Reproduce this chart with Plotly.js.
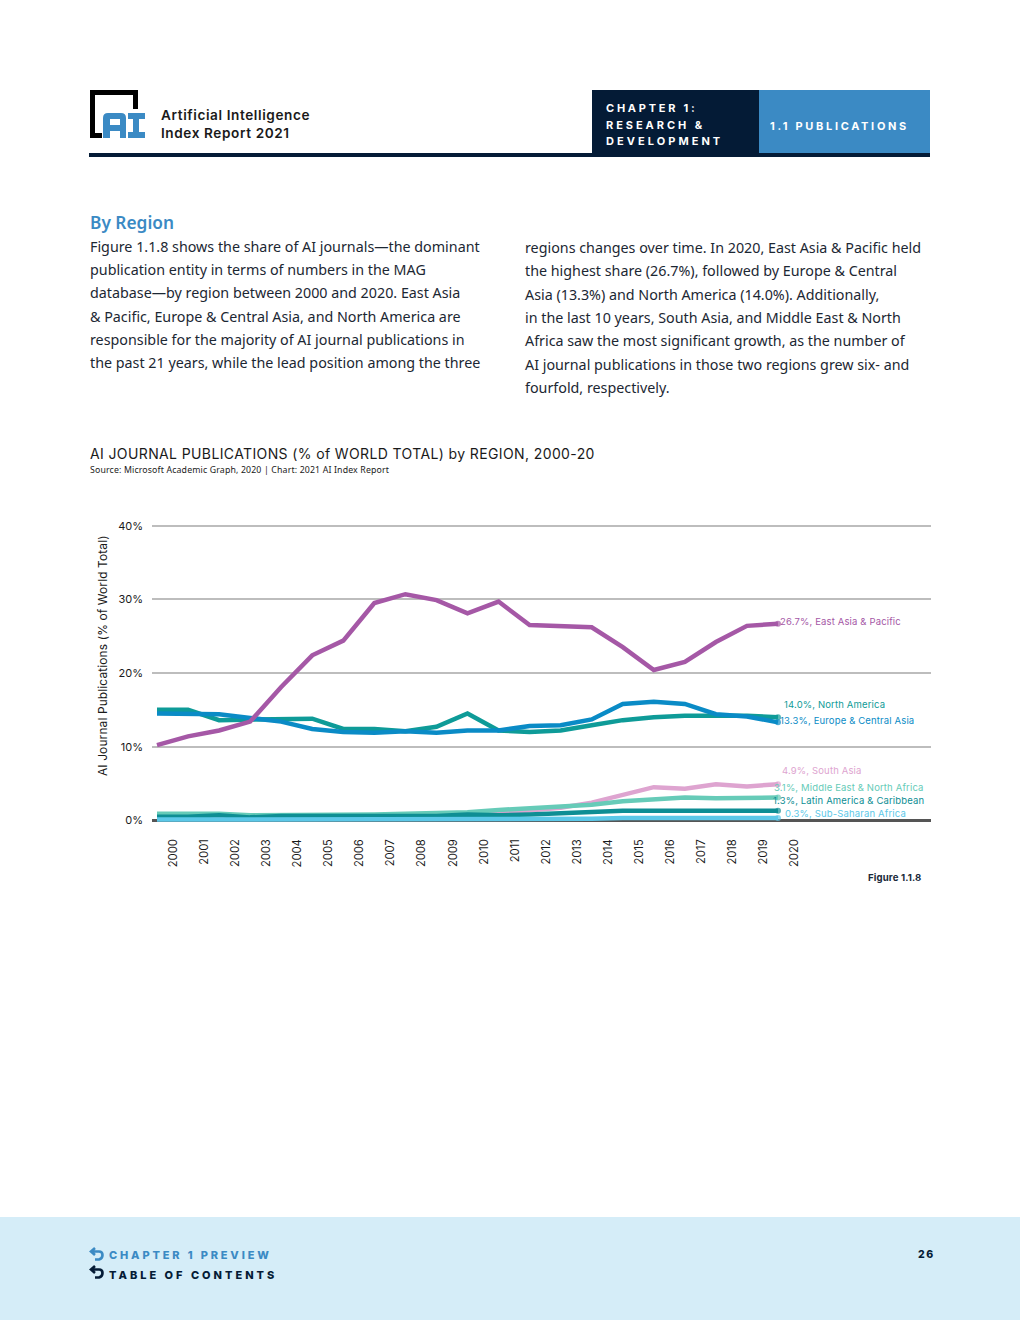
<!DOCTYPE html>
<html><head><meta charset="utf-8">
<script src="https://cdn.plot.ly/plotly-3.0.1.min.js"></script>
<style>
html,body{margin:0;padding:0;background:#fff}
#page{position:relative;width:1020px;height:1320px;overflow:hidden}
#chart{position:absolute;left:0;top:0;width:1020px;height:1320px}
.t{position:absolute;white-space:nowrap;line-height:1;transform:translateY(-50%)}
.b{position:absolute}
.body{font-family:"Noto Sans";font-size:14.3px;color:#1c2733}
.hd{font-family:Inter;font-weight:700;font-size:11px;letter-spacing:2.95px;color:#fff}
.ft{font-family:Inter;font-weight:800;font-size:11px;letter-spacing:2.85px}
.brand{font-family:Inter;font-weight:600;font-size:13.6px;color:#1a1a1a;letter-spacing:.6px}
.gtitle{letter-spacing:.38px}
.annotation-text{letter-spacing:.15px}
</style></head>
<body><div id="page">
<div class="b" style="left:0;top:1217px;width:1020px;height:103px;background:#d5edf8"></div>
<div class="b" style="left:89px;top:153px;width:841px;height:4px;background:#041b36"></div>
<div class="b" style="left:592px;top:90px;width:167px;height:63px;background:#041b36"></div>
<div class="b" style="left:759px;top:90px;width:171px;height:63px;background:#3b8ac4"></div>
<svg class="b" style="left:88px;top:88px" width="60" height="54" viewBox="0 0 60 54">
<path d="M2 2H50V21H45V7H7V45H14V50H2Z" fill="#000"/>
<path d="M20 25H33Q38 25 38 30V50H32V43H22V50H15V30Q15 25 20 25ZM22 31V37H32V31Z" fill="#3b8ac4" fill-rule="evenodd"/>
<path d="M40 25H57V31H51V44H57V50H40V44H45V31H40Z" fill="#3b8ac4"/>
</svg>
<div class="t brand" style="left:161px;top:115.5px">Artificial Intelligence</div>
<div class="t brand" style="left:161px;top:133.5px">Index Report 2021</div>
<div class="t hd" style="left:606px;top:108px;letter-spacing:2.75px">CHAPTER 1:</div>
<div class="t hd" style="left:606px;top:124.5px">RESEARCH &amp;</div>
<div class="t hd" style="left:606px;top:141px;letter-spacing:3.05px">DEVELOPMENT</div>
<div class="t hd" style="left:770px;top:126px;letter-spacing:2.68px">1.1 PUBLICATIONS</div>
<div class="t" style="left:90px;top:223px;font-family:'Noto Sans';font-weight:600;font-size:17.3px;color:#3b8ac4">By Region</div>
<div class="t body" style="left:90px;top:246.5px">Figure 1.1.8 shows the share of AI journals—the dominant</div>
<div class="t body" style="left:90px;top:269.5px">publication entity in terms of numbers in the MAG</div>
<div class="t body" style="left:90px;top:293px">database—by region between 2000 and 2020. East Asia</div>
<div class="t body" style="left:90px;top:316.5px">&amp; Pacific, Europe &amp; Central Asia, and North America are</div>
<div class="t body" style="left:90px;top:339.5px">responsible for the majority of AI journal publications in</div>
<div class="t body" style="left:90px;top:363px">the past 21 years, while the lead position among the three</div>
<div class="t body" style="left:525px;top:247.5px">regions changes over time. In 2020, East Asia &amp; Pacific held</div>
<div class="t body" style="left:525px;top:270.5px">the highest share (26.7%), followed by Europe &amp; Central</div>
<div class="t body" style="left:525px;top:294.5px">Asia (13.3%) and North America (14.0%). Additionally,</div>
<div class="t body" style="left:525px;top:317.5px">in the last 10 years, South Asia, and Middle East &amp; North</div>
<div class="t body" style="left:525px;top:340.5px">Africa saw the most significant growth, as the number of</div>
<div class="t body" style="left:525px;top:364.5px">AI journal publications in those two regions grew six- and</div>
<div class="t body" style="left:525px;top:387.5px">fourfold, respectively.</div>
<div id="chart"></div>
<svg class="b" style="left:89px;top:1247px" width="16" height="14" viewBox="0 0 16 14"><path d="M6 1 2 4.5 6 8M2.5 4.5H10Q13.5 4.5 13.5 8T10 12.5H6" fill="none" stroke="#3b8ac4" stroke-width="2.6"/></svg>
<svg class="b" style="left:89px;top:1265px" width="16" height="14" viewBox="0 0 16 14"><path d="M6 1 2 4.5 6 8M2.5 4.5H10Q13.5 4.5 13.5 8T10 12.5H6" fill="none" stroke="#041b36" stroke-width="2.6"/></svg>
<div class="t ft" style="left:109px;top:1255px;color:#3b8ac4">CHAPTER 1 PREVIEW</div>
<div class="t ft" style="left:109px;top:1275px;color:#041b36;letter-spacing:3px">TABLE OF CONTENTS</div>
<div class="t ft" style="left:918px;top:1255px;color:#041b36;font-size:10.5px;letter-spacing:1.6px">26</div>
</div>
<script>
const years=[2000,2001,2002,2003,2004,2005,2006,2007,2008,2009,2010,2011,2012,2013,2014,2015,2016,2017,2018,2019,2020];
const northAmerica=[15.0,15.0,13.6,13.7,13.8,13.8,12.4,12.4,12.1,12.7,14.5,12.2,12.0,12.2,12.9,13.6,14.0,14.2,14.2,14.2,14.0];
const europeCentralAsia=[14.5,14.5,14.4,13.9,13.4,12.4,12.0,11.9,12.1,11.9,12.2,12.2,12.8,12.9,13.7,15.8,16.1,15.8,14.4,14.1,13.3];
const southAsia=[0.4,0.4,0.4,0.2,0.2,0.3,0.3,0.4,0.5,0.6,0.8,1.0,1.3,1.7,2.4,3.5,4.5,4.3,4.9,4.6,4.9];
const middleEastNorthAfrica=[0.9,0.9,0.9,0.7,0.7,0.7,0.8,0.8,0.9,1.0,1.1,1.4,1.6,1.8,2.1,2.6,2.9,3.1,3.0,3.0,3.1];
const latinAmericaCaribbean=[0.5,0.5,0.7,0.4,0.6,0.6,0.7,0.7,0.6,0.6,0.8,0.7,0.8,1.0,1.1,1.3,1.3,1.3,1.3,1.3,1.3];
const subSaharanAfrica=[0.1,0.1,0.1,0.1,0.1,0.1,0.1,0.1,0.1,0.1,0.2,0.2,0.2,0.2,0.2,0.3,0.3,0.3,0.3,0.3,0.3];
const eastAsiaPacific=[10.2,11.4,12.2,13.4,18.1,22.4,24.4,29.5,30.7,29.9,28.1,29.7,26.5,26.3,26.2,23.5,20.4,21.5,24.2,26.4,26.7];
const seriesNames=["North America","Europe & Central Asia","South Asia","Middle East & North Africa","Latin America & Caribbean","Sub-Saharan Africa","East Asia & Pacific"];
const seriesValues=[northAmerica,europeCentralAsia,southAsia,middleEastNorthAfrica,latinAmericaCaribbean,subSaharanAfrica,eastAsiaPacific];
const seriesColors=["#0e9b98","#0a8bc6","#dea4d0","#66cbb8","#0e8e94","#5cc8e8","#a558a6"];
const labelDx=[4,0,2,-6,-7,5,0];
const labelY=[704.5,720.5,770.5,787.5,800.5,813.5,621];
const yTicks=[0,10,20,30,40];

const L=152,R=931,Y40=525.5,Y0=820.5,W=1020,H=1320,PAD=0.5;
const perUnit=(Y0-Y40)/40;
const T=Y40-PAD*perUnit,B=Y0+PAD*perUnit;
const px=x=>(x-L)/(R-L), py=y=>(B-y)/(B-T);
const yPix=v=>Y0-v*perUnit;
const chartFont="Inter";
const traces=seriesNames.map((n,i)=>({
  type:"scatter",mode:"lines+markers",name:n,x:years,y:seriesValues[i],cliponaxis:false,
  line:{color:seriesColors[i],width:4.5,shape:"linear"},
  marker:{color:seriesColors[i],size:years.map((_,k)=>k===years.length-1?6:0),line:{width:0}},
  hoverinfo:"x+y+name"
}));
const valueLabels=seriesNames.map((n,i)=>{
  const last=seriesValues[i][seriesValues[i].length-1];
  return {x:2020,y:last,xref:"x",yref:"y",text:last.toFixed(1)+"%, "+n,showarrow:false,xanchor:"left",yanchor:"middle",
    xshift:labelDx[i],yshift:yPix(last)-labelY[i],font:{family:chartFont,size:9.5,color:seriesColors[i]}};
});
const extras=[
 {xref:"paper",yref:"paper",x:px(88),y:py(469.5),xanchor:"left",yanchor:"middle",showarrow:false,text:"Source: Microsoft Academic Graph, 2020 | Chart: 2021 AI Index Report",font:{family:"Noto Sans",size:8.75,color:"#1a1a1a"}},
 {xref:"paper",yref:"paper",x:px(924),y:py(878.5),xanchor:"right",yanchor:"middle",showarrow:false,text:"<b>Figure 1.1.8</b>",font:{family:chartFont,size:9.6,color:"#1a2a3a"}},
 {xref:"paper",yref:"paper",x:px(102),y:py(656),xanchor:"center",yanchor:"middle",textangle:-90,showarrow:false,text:"AI Journal Publications (% of World Total)",font:{family:chartFont,size:11.9,color:"#1a1a1a"}}
];
const layout={
  width:W,height:H,paper_bgcolor:"rgba(0,0,0,0)",plot_bgcolor:"rgba(0,0,0,0)",showlegend:false,
  margin:{l:L,r:W-R,t:T,b:H-B,pad:0},
  title:{text:"AI JOURNAL PUBLICATIONS (% of WORLD TOTAL) by REGION, 2000-20",xref:"container",yref:"container",x:90/W,y:1-454/H,xanchor:"left",yanchor:"middle",font:{family:chartFont,size:14,color:"#1a1a1a"}},
  xaxis:{type:"linear",range:[2000-(157-L)/31.05,2000+(R-157)/31.05],tickmode:"array",tickvals:years.map(y=>y+0.53),ticktext:years.map(String),tickangle:-90,
    showgrid:false,zeroline:false,showline:false,ticks:"",ticklabelstandoff:12,tickfont:{family:chartFont,size:11.2,color:"#1a1a1a"}},
  yaxis:{range:[-PAD,40+PAD],tickmode:"array",tickvals:yTicks,ticktext:yTicks.map(v=>v+"%"),showgrid:true,gridcolor:"#bdbdbd",gridwidth:2,zeroline:true,zerolinecolor:"#555555",zerolinewidth:3,
    showline:false,ticks:"",ticklabelstandoff:8,tickfont:{family:chartFont,size:11,color:"#1a1a1a"}},
  annotations:valueLabels.concat(extras)
};
Plotly.newPlot("chart",traces,layout,{displayModeBar:false,staticPlot:true});
</script>
</body></html>
